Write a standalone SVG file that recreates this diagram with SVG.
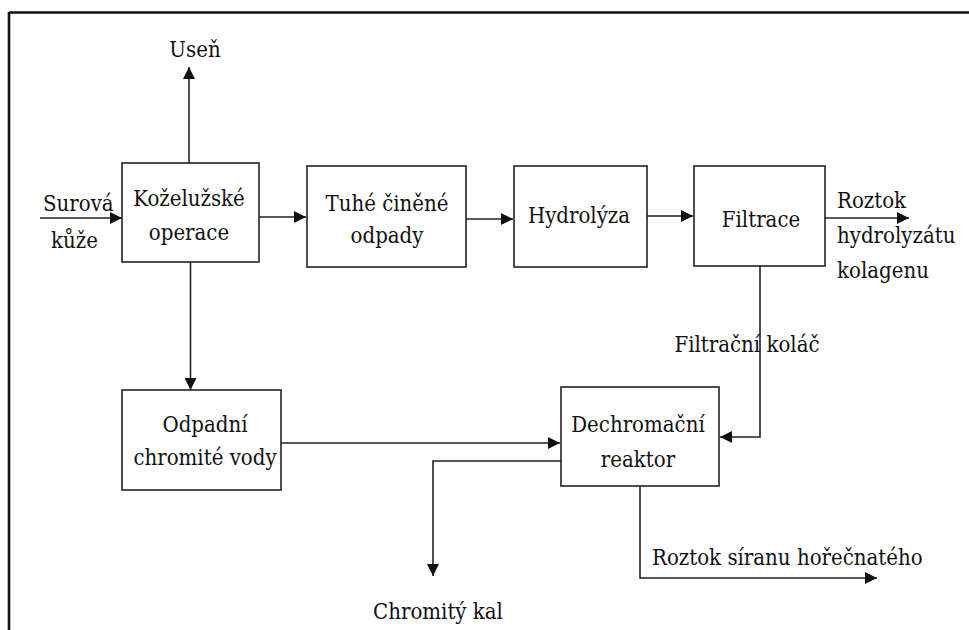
<svg xmlns="http://www.w3.org/2000/svg" width="969" height="630" viewBox="0 0 969 630">
<style>
.box{fill:#fff;stroke:#222;stroke-width:1.6}
.ln{fill:none;stroke:#222;stroke-width:1.6}
.ar{marker-end:url(#ah)}
.t{font-family:'DejaVu Serif',serif;font-size:22px;font-stretch:condensed;fill:#111}
.c{text-anchor:middle}
</style>
<defs>
<marker id="ah" markerUnits="userSpaceOnUse" markerWidth="13" markerHeight="12" refX="12" refY="6" orient="auto">
<path d="M0,0 L12,6 L0,12 z" fill="#111"/>
</marker>
</defs>
<rect width="969" height="630" fill="#fff"/>
<g id="frame">
<line x1="9" y1="12.5" x2="969" y2="12.5" stroke="#111" stroke-width="2.6"/>
<line x1="9" y1="12" x2="9" y2="630" stroke="#111" stroke-width="2.6"/>
</g>
<g id="connectors">
<line class="ln ar" x1="189" y1="163" x2="189" y2="67"/>
<line class="ln ar" x1="40" y1="218" x2="122" y2="218"/>
<line class="ln ar" x1="259" y1="217" x2="306" y2="217"/>
<line class="ln ar" x1="466" y1="219" x2="513" y2="219"/>
<line class="ln ar" x1="647" y1="216" x2="693" y2="216"/>
<line class="ln ar" x1="825" y1="218" x2="909" y2="218"/>
<polyline class="ln ar" points="760,266 760,437 720,437"/>
<line class="ln ar" x1="190.5" y1="262" x2="190.5" y2="390"/>
<line class="ln ar" x1="281" y1="443" x2="560" y2="443"/>
<polyline class="ln ar" points="561,461 433,461 433,576"/>
<polyline class="ln ar" points="640,486 640,578 877,578"/>
</g>
<g class="t">
<g id="label-usen"><text class="c" x="195" y="57">Useň</text></g>
<g id="label-surova"><text x="43" y="211">Surová</text><text x="51" y="248">kůže</text></g>
<g id="node-kozeluzske">
<rect class="box" x="122" y="163" width="137" height="99"/>
<text class="c" x="189" y="206">Koželužské</text>
<text class="c" x="189" y="240">operace</text>
</g>
<g id="node-tuhe">
<rect class="box" x="307" y="166" width="159" height="101"/>
<text class="c" x="387" y="211">Tuhé činěné</text>
<text class="c" x="387" y="243">odpady</text>
</g>
<g id="node-hydrolyza">
<rect class="box" x="514" y="166" width="133" height="101"/>
<text class="c" x="579" y="223">Hydrolýza</text>
</g>
<g id="node-filtrace">
<rect class="box" x="694" y="166" width="131" height="100"/>
<text class="c" x="761" y="227">Filtrace</text>
</g>
<g id="label-roztok-hydrolyzatu">
<text x="837" y="208">Roztok</text>
<text x="837" y="243">hydrolyzátu</text>
<text x="837" y="278">kolagenu</text>
</g>
<g id="label-filtracni-kolac"><text class="c" x="747" y="352">Filtrační koláč</text></g>
<g id="node-odpadni">
<rect class="box" x="122" y="390" width="159" height="100"/>
<text class="c" x="205" y="432">Odpadní</text>
<text class="c" x="205" y="465">chromité vody</text>
</g>
<g id="node-dechromacni">
<rect class="box" x="561" y="387" width="158" height="99"/>
<text class="c" x="638" y="432">Dechromační</text>
<text class="c" x="638" y="467">reaktor</text>
</g>
<g id="label-chromity-kal"><text class="c" x="438" y="619">Chromitý kal</text></g>
<g id="label-roztok-siranu"><text x="652" y="565">Roztok síranu hořečnatého</text></g>
</g>
</svg>
